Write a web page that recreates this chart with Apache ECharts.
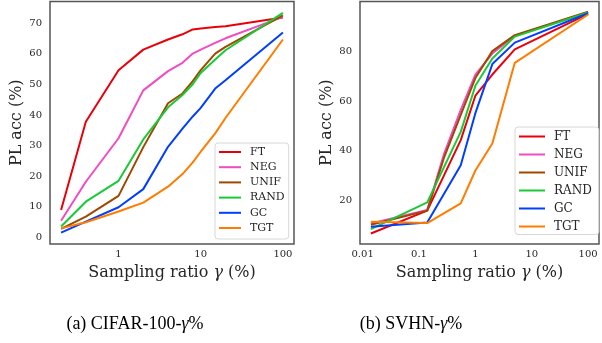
<!DOCTYPE html>
<html>
<head>
<meta charset="utf-8">
<script src="https://cdn.jsdelivr.net/npm/echarts@6/dist/echarts.min.js"></script>
<style>
  html, body { margin: 0; padding: 0; background: #fff; }
  #chart { width: 602px; height: 343px; }
</style>
</head>
<body>
<div id="chart"></div>
<script>
// method names + colours (seaborn "bright")
const methods = ['FT', 'NEG', 'UNIF', 'RAND', 'GC', 'TGT'];
const colors = ['#e8000b', '#f14cc1', '#9f4800', '#1ac938', '#023eff', '#ff7c00'];

// (a) CIFAR-100
const xsA = [0.2, 0.4, 1, 2, 4, 6, 8, 10, 15, 20, 100];
const ftA   = [9.0, 37.8, 54.6, 61.3, 64.6, 66.3, 67.9, 68.2, 68.7, 68.9, 71.8];
const negA  = [5.5, 18.2, 32.4, 48.0, 54.3, 57.0, 60.0, 61.3, 63.5, 65.0, 72.0];
const unifA = [2.8, 6.8, 13.6, 29.5, 43.8, 47.0, 51.0, 54.6, 60.0, 62.2, 72.5];
const randA = [3.6, 11.7, 18.5, 32.0, 42.5, 46.5, 50.0, 53.7, 58.1, 61.1, 73.3];
const gcA   = [1.6, 5.2, 9.9, 15.8, 29.6, 35.5, 39.5, 42.3, 48.6, 51.3, 66.9];
const tgtA  = [3.0, 5.0, 8.5, 11.4, 16.6, 20.7, 24.5, 28.0, 34.0, 39.0, 64.6];
const xTicksA = [1, 10, 100];

// (b) SVHN  (null = no vertex there)
const xsB = [0.014, 0.14, 0.28, 0.55, 1, 2, 5, 100];
const ftB   = [6.8, 16.0, null, 44.3, 62.1, 70.6, 80.7, 94.9];
const negB  = [10.8, 16.3, 39.0, 56.4, 70.6, 79.0, 86.2, 95.5];
const unifB = [10.3, 16.0, 37.5, 54.4, 69.2, 80.0, 86.4, 95.8];
const randB = [8.6, 19.3, null, 47.6, 66.1, 77.0, 85.8, 95.5];
const gcB   = [9.5, 11.2, null, 34.2, 55.1, 74.8, 83.4, 95.2];
const tgtB  = [11.5, 11.0, null, 18.9, 32.1, 42.9, 75.3, 94.7];
const xTicksB = [0.01, 0.1, 1, 10, 100];

const seriesA = [ftA, negA, unifA, randA, gcA, tgtA];
const seriesB = [ftB, negB, unifB, randB, gcB, tgtB];

const font = 'DejaVu Serif';
const textColor = '#262626';

const pairs = (xs, ys) => xs.map((x, i) => [x, ys[i]]).filter(p => p[1] != null);

const tickFormatter = (ticks) => (v) => {
    for (const t of ticks) {
        if (Math.abs(v - t) / t < 1e-6) return String(t);
    }
    return '';
};

const xAxisFor = (idx, min, max, ticks) => ({
    type: 'log',
    logBase: 10,
    gridIndex: idx,
    min: min,
    max: max,
    name: '{n|Sampling ratio }{g|γ}{n| (%)}',
    nameLocation: 'middle',
    nameGap: 21,
    nameTextStyle: {
        rich: {
            n: {fontFamily: font, fontSize: 16, color: textColor},
            g: {fontFamily: font, fontSize: 16, fontStyle: 'italic', color: textColor}
        }
    },
    axisLine: {show: false},
    axisTick: {show: false},
    splitLine: {show: false},
    axisLabel: {
        formatter: tickFormatter(ticks),
        fontFamily: font,
        fontSize: 10,
        color: textColor,
        margin: 5,
        showMinLabel: true,
        showMaxLabel: true
    }
});

const yAxisFor = (idx, min, max, split) => ({
    type: 'value',
    gridIndex: idx,
    min: min,
    max: max,
    splitNumber: split,
    name: 'PL acc (%)',
    nameLocation: 'middle',
    nameGap: 25,
    nameTextStyle: {fontFamily: font, fontSize: 16, color: textColor},
    axisLine: {show: false},
    axisTick: {show: false},
    splitLine: {show: false},
    axisLabel: {
        formatter: (v) => (Math.abs(v % 10) < 1e-6 ? String(v) : ''),
        fontFamily: font,
        fontSize: 10,
        color: textColor,
        margin: 8
    }
});

const series = [];
methods.forEach((m, i) => {
    series.push({
        name: m, type: 'line', xAxisIndex: 0, yAxisIndex: 0,
        data: pairs(xsA, seriesA[i]), symbol: 'none',
        lineStyle: {width: 2, color: colors[i]}, itemStyle: {color: colors[i]}
    });
});
methods.forEach((m, i) => {
    series.push({
        name: m, type: 'line', xAxisIndex: 1, yAxisIndex: 1,
        data: pairs(xsB, seriesB[i]), symbol: 'none',
        lineStyle: {width: 2, color: colors[i]}, itemStyle: {color: colors[i]}
    });
});

const legendBase = {
    orient: 'vertical',
    data: methods,
    icon: 'rect',
    itemHeight: 2,
    backgroundColor: 'rgba(255,255,255,0.85)',
    borderColor: '#d8d8d8',
    borderWidth: 1,
    borderRadius: 3,
    selectedMode: false
};

const chart = echarts.init(document.getElementById('chart'), null, {renderer: 'canvas'});
chart.setOption({
    animation: false,
    backgroundColor: '#fff',
    grid: [
        {left: 50, right: 308, top: 1.5, bottom: 99, show: true, borderColor: '#555', borderWidth: 1.5, backgroundColor: 'transparent'},
        {left: 360, right: -2.4, top: 1.5, bottom: 99, show: true, borderColor: '#555', borderWidth: 1.5, backgroundColor: 'transparent'}
    ],
    xAxis: [
        xAxisFor(0, 0.1466, 136.4, xTicksA),
        xAxisFor(1, 0.00898, 156, xTicksB)
    ],
    yAxis: [
        yAxisFor(0, -2.1, 77, 8),
        yAxisFor(1, 2.6, 99.9, 5)
    ],
    legend: [
        Object.assign({}, legendBase, {
            left: 215, top: 143,
            padding: [3, 4, 5, 4],
            itemWidth: 22, itemGap: 3.2,
            textStyle: {fontFamily: font, fontSize: 11, color: textColor, lineHeight: 12, padding: [0, 0, 0, 4]}
        }),
        Object.assign({}, legendBase, {
            left: 515, top: 127,
            padding: [2.5, 7, 1, 4],
            itemWidth: 26, itemGap: 4,
            textStyle: {fontFamily: font, fontSize: 12, color: textColor, lineHeight: 14, padding: [0, 0, 0, 4]}
        })
    ],
    graphic: [
        {
            type: 'text', x: 135, y: 324,
            style: {
                text: '{n|(a) CIFAR-100-}{g|γ}{n|%}',
                align: 'center', verticalAlign: 'middle',
                rich: {
                    n: {fontFamily: 'Liberation Serif', fontSize: 18, fill: '#000'},
                    g: {fontFamily: 'Liberation Serif', fontSize: 18, fontStyle: 'italic', fill: '#000'}
                }
            }
        },
        {
            type: 'text', x: 411, y: 324,
            style: {
                text: '{n|(b) SVHN-}{g|γ}{n|%}',
                align: 'center', verticalAlign: 'middle',
                rich: {
                    n: {fontFamily: 'Liberation Serif', fontSize: 18, fill: '#000'},
                    g: {fontFamily: 'Liberation Serif', fontSize: 18, fontStyle: 'italic', fill: '#000'}
                }
            }
        }
    ],
    series: series
});
</script>
</body>
</html>
